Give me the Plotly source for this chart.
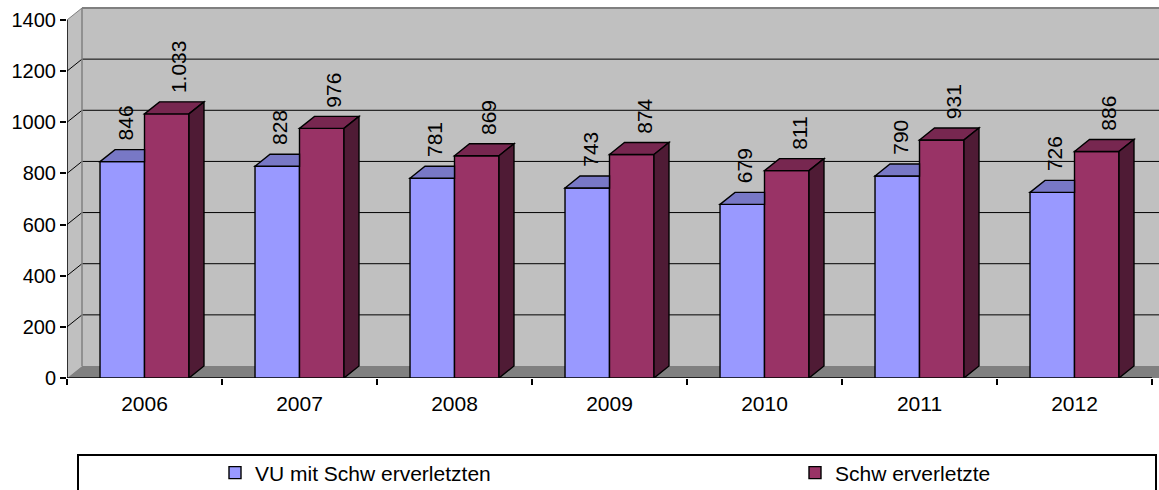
import plotly.graph_objects as go

# ---------------- data ----------------
years = ["2006", "2007", "2008", "2009", "2010", "2011", "2012"]
vu_values = [846, 828, 781, 743, 679, 790, 726]          # VU mit Schwerverletzten
sv_values = [1033, 976, 869, 874, 811, 931, 886]         # Schwerverletzte
series_names = ["VU mit Schw erverletzten", "Schw erverletzte"]
y_ticks = [0, 200, 400, 600, 800, 1000, 1200, 1400]

# ---------------- style / geometry ----------------
FONT = "Liberation Sans, Arial, sans-serif"
BLUE, BLUE_TOP = "#9999FF", "#7878C6"
MAROON, MAROON_TOP, MAROON_SIDE = "#993366", "#772750", "#4F1B35"
WALL, FLOOR, EDGE = "#C0C0C0", "#808080", "#808080"

W = 0.287                 # bar width (category units)
PX_PER_CAT = 155.0
PX_PER_UNIT = 358.0 / 1400.0
DX = 15.0 / PX_PER_CAT    # depth offset in x (category units)
DY = 12.0 / PX_PER_UNIT   # depth offset in y (value units)
YMAX = y_ticks[-1]
T_MARGIN, PLOT_BOTTOM = 5, 378
Y_TOP = (PLOT_BOTTOM - T_MARGIN) / PX_PER_UNIT
x_lo, x_hi = -0.5, len(years) - 0.5
x_view = x_hi + 7.0 / PX_PER_CAT
LW = 1.4


def fmt(v):
    return f"{v:,}".replace(",", ".")


fig = go.Figure()
fig.add_bar(x=years, y=vu_values, name=series_names[0], offset=-W, width=W,
            legendwidth=535,
            marker=dict(color=BLUE, line=dict(color="black", width=LW)))
fig.add_bar(x=years, y=sv_values, name=series_names[1], offset=0, width=W,
            legendwidth=180,
            marker=dict(color=MAROON, line=dict(color="black", width=LW)))

shapes = []
# left side wall
shapes.append(dict(type="path", layer="below", xref="x", yref="y",
                   path=f"M{x_lo},0 L{x_lo+DX},{DY} L{x_lo+DX},{YMAX+DY} L{x_lo},{YMAX} Z",
                   fillcolor=WALL, line=dict(width=0)))
# back wall
shapes.append(dict(type="rect", layer="below", xref="x", yref="y",
                   x0=x_lo + DX, x1=x_view + 1, y0=DY, y1=YMAX + DY,
                   fillcolor=WALL, line=dict(width=0)))
# floor
shapes.append(dict(type="path", layer="below", xref="x", yref="y",
                   path=f"M{x_lo},0 L{x_hi+1},0 L{x_hi+1+DX},{DY} L{x_lo+DX},{DY} Z",
                   fillcolor=FLOOR, line=dict(width=0)))
# gridlines on back wall + slanted on side wall
for g in y_ticks[1:]:
    col = EDGE if g == YMAX else "black"
    wdt = 2 if g == YMAX else 1
    shapes.append(dict(type="line", layer="below", xref="x", yref="y",
                       x0=x_lo + DX, x1=x_view + 1, y0=g + DY, y1=g + DY,
                       line=dict(color=col, width=wdt)))
    shapes.append(dict(type="line", layer="below", xref="x", yref="y",
                       x0=x_lo, x1=x_lo + DX, y0=g, y1=g + DY,
                       line=dict(color=col, width=1)))
# back wall left edge
shapes.append(dict(type="line", layer="below", xref="x", yref="y",
                   x0=x_lo + DX, x1=x_lo + DX, y0=DY, y1=YMAX + DY,
                   line=dict(color=EDGE, width=1.5)))
# axis lines
shapes.append(dict(type="line", layer="below", xref="x", yref="y",
                   x0=x_lo, x1=x_lo, y0=0, y1=YMAX, line=dict(color="black", width=1.5)))
shapes.append(dict(type="line", layer="below", xref="x", yref="y",
                   x0=x_lo, x1=x_hi, y0=0, y1=0, line=dict(color="black", width=1.5)))

# 3D faces of bars
for i, (a, b) in enumerate(zip(vu_values, sv_values)):
    x0, x1 = i - W, i
    shapes.append(dict(type="path", layer="above", xref="x", yref="y",
                       path=f"M{x0},{a} L{x1},{a} L{x1},{a+DY} L{x0+DX},{a+DY} Z",
                       fillcolor=BLUE_TOP, line=dict(color="black", width=LW)))
    m0, m1 = i, i + W
    shapes.append(dict(type="path", layer="above", xref="x", yref="y",
                       path=f"M{m0},{b} L{m1},{b} L{m1+DX},{b+DY} L{m0+DX},{b+DY} Z",
                       fillcolor=MAROON_TOP, line=dict(color="black", width=LW)))
    shapes.append(dict(type="path", layer="above", xref="x", yref="y",
                       path=f"M{m1},0 L{m1},{b} L{m1+DX},{b+DY} L{m1+DX},{DY} Z",
                       fillcolor=MAROON_SIDE, line=dict(color="black", width=LW)))

# legend frame
plot_w = 1159 - 67
plot_h = PLOT_BOTTOM - T_MARGIN
shapes.append(dict(type="rect", layer="above", xref="paper", yref="paper",
                   x0=(78 - 67) / plot_w, x1=(1156 - 67) / plot_w,
                   y0=(PLOT_BOTTOM - 455) / plot_h, y1=(PLOT_BOTTOM - 500) / plot_h,
                   line=dict(color="black", width=2), fillcolor="rgba(0,0,0,0)"))

# data labels
annotations = []
for i, (a, b) in enumerate(zip(vu_values, sv_values)):
    annotations.append(dict(x=i - W / 2, y=a, xref="x", yref="y", text=fmt(a),
                            textangle=-90, showarrow=False, xanchor="center",
                            yanchor="bottom", xshift=3, yshift=19,
                            font=dict(family=FONT, size=21, color="black")))
    annotations.append(dict(x=i + W / 2, y=b, xref="x", yref="y", text=fmt(b),
                            textangle=-90, showarrow=False, xanchor="center",
                            yanchor="bottom", xshift=12, yshift=19,
                            font=dict(family=FONT, size=21, color="black")))

fig.update_layout(
    width=1159, height=490,
    margin=dict(l=67, r=0, t=T_MARGIN, b=490 - PLOT_BOTTOM, autoexpand=False),
    paper_bgcolor="white", plot_bgcolor="white",
    barmode="overlay",
    font=dict(family=FONT, size=20, color="black"),
    shapes=shapes, annotations=annotations,
    showlegend=True,
    legend=dict(orientation="h", x=(215 - 67) / plot_w, xanchor="left",
                y=(PLOT_BOTTOM - 473) / plot_h, yanchor="middle",
                bgcolor="rgba(0,0,0,0)", borderwidth=0,
                font=dict(family=FONT, size=21, color="black"),
                traceorder="normal"),
    xaxis=dict(type="category", range=[x_lo, x_view], tickson="boundaries",
               ticks="outside", ticklen=6, tickcolor="black", tickwidth=1.5,
               ticklabelstandoff=11,
               showgrid=False, showline=False, zeroline=False,
               tickfont=dict(family=FONT, size=21, color="black")),
    yaxis=dict(range=[0, Y_TOP], tickmode="array", tickvals=y_ticks,
               ticktext=[str(t) for t in y_ticks],
               ticks="outside", ticklen=6, tickcolor="black", tickwidth=1.5,
               showgrid=False, showline=False, zeroline=False,
               tickfont=dict(family=FONT, size=20, color="black")),
)

fig.write_html("out.html")
